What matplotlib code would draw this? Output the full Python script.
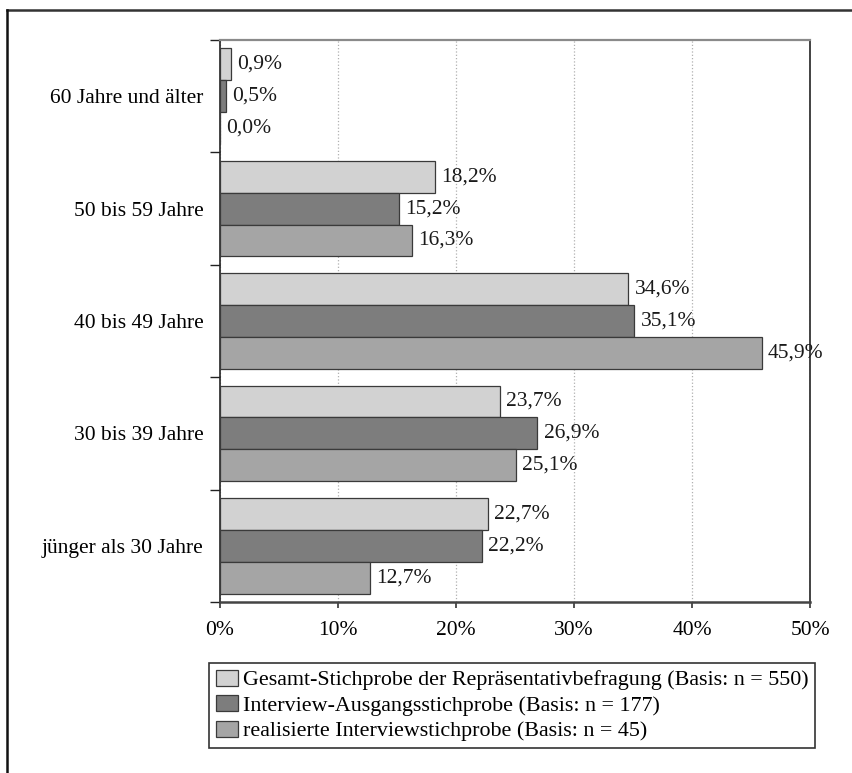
import numpy as np
import matplotlib
matplotlib.use("Agg")
from matplotlib import pyplot as plt
from matplotlib.lines import Line2D

# Altersgruppen, von unten nach oben
categories = [
    "jünger als 30 Jahre",
    "30 bis 39 Jahre",
    "40 bis 49 Jahre",
    "50 bis 59 Jahre",
    "60 Jahre und älter",
]
series_names = [
    "Gesamt-Stichprobe der Repräsentativbefragung (Basis: n = 550)",
    "Interview-Ausgangsstichprobe (Basis: n = 177)",
    "realisierte Interviewstichprobe (Basis: n = 45)",
]
gesamt = [22.7, 23.7, 34.6, 18.2, 0.9]
ausgang = [22.2, 26.9, 35.1, 15.2, 0.5]
realisiert = [12.7, 25.1, 45.9, 16.3, 0.0]
x_ticks = [0, 10, 20, 30, 40, 50]

colors = ["#d2d2d2", "#7d7d7d", "#a5a5a5"]
edge = "#3a3a3a"

plt.rcParams["font.family"] = ["Liberation Serif", "DejaVu Serif"]
plt.rcParams["font.size"] = 15.5

fig = plt.figure(figsize=(8.52, 7.73), dpi=100)
ax = fig.add_axes([220 / 852, 1 - 602 / 773, 590 / 852, 562 / 773])

y = np.arange(len(categories))
h = 0.284
all_series = [gesamt, ausgang, realisiert]
for k, (vals, col, name) in enumerate(zip(all_series, colors, series_names)):
    pos = y + h * (1 - k)
    ax.barh(pos, vals, height=h, color=col, edgecolor=edge,
            linewidth=0.9, label=name, zorder=3)
    for p, v in zip(pos, vals):
        ax.annotate(("%.1f%%" % v).replace(".", ","), (v, p),
                    xytext=(4.5, 0), textcoords="offset points",
                    va="center", ha="left", fontsize=15.5, color="#1a1a1a")

ax.set_xlim(0, 50)
ax.set_ylim(-0.5, len(categories) - 0.5)
ax.set_xticks(x_ticks)
ax.set_xticklabels(["%d%%" % t for t in x_ticks], fontsize=15.5)
ax.tick_params(axis="x", length=4, width=1.2, color="#333333", pad=10)

# Gruppengrenzen als Striche, Beschriftung in der Mitte
ax.set_yticks(np.arange(-0.5, len(categories)), labels=[""] * (len(categories) + 1))
ax.set_yticks(y, labels=categories, minor=True)
ax.tick_params(axis="y", which="major", length=7, width=1, color="#222222")
ax.tick_params(axis="y", which="minor", length=0, pad=12)

ax.grid(axis="x", linestyle=":", color="#b0b0b0", linewidth=0.9, zorder=0)
ax.spines["top"].set_color("#8a8a8a")
ax.spines["top"].set_linewidth(1.6)
ax.spines["right"].set_color("#222222")
ax.spines["right"].set_linewidth(1.2)
ax.spines["left"].set_color("#222222")
ax.spines["left"].set_linewidth(1.2)
ax.spines["bottom"].set_color("#444444")
ax.spines["bottom"].set_linewidth(1.8)

leg = fig.legend(loc="upper left", bbox_to_anchor=(209 / 852, 1 - 663 / 773),
                 fancybox=False, edgecolor="#333333", framealpha=1,
                 handlelength=1.0, handleheight=0.75, handletextpad=0.25,
                 borderpad=0.3, labelspacing=0.22, borderaxespad=0,
                 fontsize=15.8)
leg.get_frame().set_linewidth(1.2)

# äußerer Rahmen (rechts und unten abgeschnitten)
fig.add_artist(Line2D([7 / 852, 1], [1 - 10 / 773, 1 - 10 / 773],
                      color="#333333", linewidth=1.8))
fig.add_artist(Line2D([7 / 852, 7 / 852], [0, 1 - 10 / 773],
                      color="#111111", linewidth=1.8))

fig.savefig("out.png", dpi=100)
